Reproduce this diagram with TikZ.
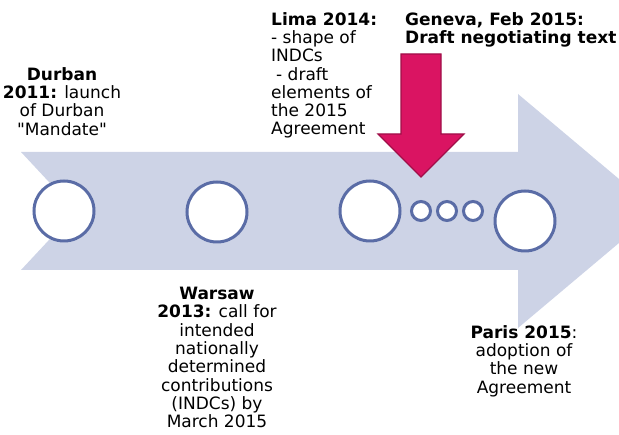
\documentclass[tikz,border=0pt]{standalone}
\usepackage{fontspec}
\setmainfont{DejaVu Sans}[Ligatures=TeXOff]
\definecolor{arrowfill}{RGB}{205,211,230}
\definecolor{ringcol}{RGB}{90,108,166}
\definecolor{pinkfill}{RGB}{218,20,98}
\definecolor{pinkedge}{RGB}{160,15,72}
\begin{document}
\begin{tikzpicture}[x=1pt,y=-1pt,
  ring/.style={circle, draw=ringcol, line width=3pt, fill=white, inner sep=0pt, minimum size=60pt},
  dot/.style={circle, draw=ringcol, line width=3pt, fill=white, inner sep=0pt, minimum size=19pt},
  lbl/.style={inner sep=0pt, font=\fontsize{17}{18.3}\selectfont}]
\useasboundingbox (0,0) rectangle (619,435);
\clip (0,0) rectangle (619,435);
% big timeline arrow
\fill[arrowfill] (21,152) -- (518,152) -- (518,94) -- (657,211) -- (518,328)
  -- (518,270) -- (21,270) -- (76,211) -- cycle;
% pink arrow
\filldraw[fill=pinkfill, draw=pinkedge, line width=1.2pt, line join=miter]
  (401,54) -- (441,54) -- (441,134) -- (464,134) -- (421,177) -- (378,134) -- (401,134) -- cycle;
% circles
\node[ring] (c1) at (64,211) {};
\node[ring] (c2) at (217,212) {};
\node[ring] (c3) at (370,211) {};
\node[dot] (d1) at (421,211) {};
\node[dot] (d2) at (447,211) {};
\node[dot] (d3) at (473,211) {};
\node[ring] (c4) at (525,221) {};
% labels
\node[lbl, align=center, anchor=north] (durban) at (62,67)
  {\textbf{Durban}\\\textbf{2011:} launch\\of Durban\\"Mandate"};
\node[lbl, align=left, anchor=north west] (lima) at (271,12)
  {\textbf{Lima 2014:}\\- shape of\\INDCs\\\hspace*{5pt}- draft\\elements of\\the 2015\\Agreement};
\node[lbl, align=left, anchor=north west] (geneva) at (405,12)
  {\textbf{Geneva, Feb 2015:}\\\textbf{Draft negotiating text}};
\node[lbl, align=center, anchor=north] (warsaw) at (217,287)
  {\textbf{Warsaw}\\\textbf{2013:} call for\\intended\\nationally\\determined\\contributions\\(INDCs) by\\March 2015};
\node[lbl, align=center, anchor=north] (paris) at (524,325)
  {\textbf{Paris 2015}:\\adoption of\\the new\\Agreement};
\end{tikzpicture}
\end{document}
